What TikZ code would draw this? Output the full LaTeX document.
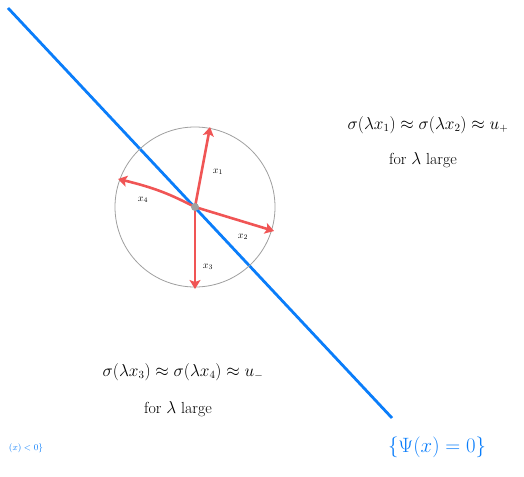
\documentclass[tikz,border=0pt]{standalone}
\usepackage{amsmath}
\usetikzlibrary{arrows.meta}
\definecolor{lineblue}{RGB}{10,125,250}
\definecolor{arrred}{RGB}{240,85,85}
\definecolor{circgray}{RGB}{160,160,160}
\tikzset{
  vec/.style={draw=arrred,line width=2.6pt,-{Stealth[length=9pt,width=11pt,inset=2pt]}},
  veclabel/.style={font=\normalsize,inner sep=1pt},
  note/.style={font=\fontsize{16}{18}\selectfont,inner sep=1pt},
  bluenote/.style={text=lineblue,inner sep=1pt}
}
\begin{document}
\begin{tikzpicture}[x=1pt,y=-1pt]
\useasboundingbox (0,0) rectangle (524,476);
\coordinate (L1) at (8,8);
\coordinate (L2) at (392,418);
\draw[lineblue,line width=2.8pt] (L1) -- (L2);
\node[circle,draw=circgray,line width=0.8pt,minimum size=160pt,inner sep=0pt] (C) at (195,207) {};
\coordinate (O) at (195,207);
\coordinate (X1) at (210,127);
\coordinate (X2) at (274,231);
\coordinate (X3) at (195,289);
\coordinate (X4) at (118,179);
\draw[vec] (O) -- (X1);
\draw[vec] (O) -- (X2);
\draw[vec] (O) -- (X3);
\draw[vec] (O) .. controls (175,197) and (160,189) .. (X4);
\fill[circgray] (O) circle (4pt);
\node[veclabel] (l1) at (218,172) {$x_1$};
\node[veclabel] (l2) at (243,237) {$x_2$};
\node[veclabel] (l3) at (208,267) {$x_3$};
\node[veclabel] (l4) at (143,200) {$x_4$};
\node[note] (t1) at (428,125) {$\sigma(\lambda x_1)\approx\sigma(\lambda x_2)\approx u_+$};
\node[note] (t2) at (423,160) {for $\lambda$ large};
\node[note] (b1) at (183,372) {$\sigma(\lambda x_3)\approx\sigma(\lambda x_4)\approx u_-$};
\node[note] (b2) at (178,409) {for $\lambda$ large};
\node[bluenote,font=\small] (n1) at (26,448) {$(x)<0\}$};
\node[bluenote,font=\fontsize{21}{24}\selectfont] (n2) at (437,447) {$\{\Psi(x)=0\}$};
\end{tikzpicture}
\end{document}
